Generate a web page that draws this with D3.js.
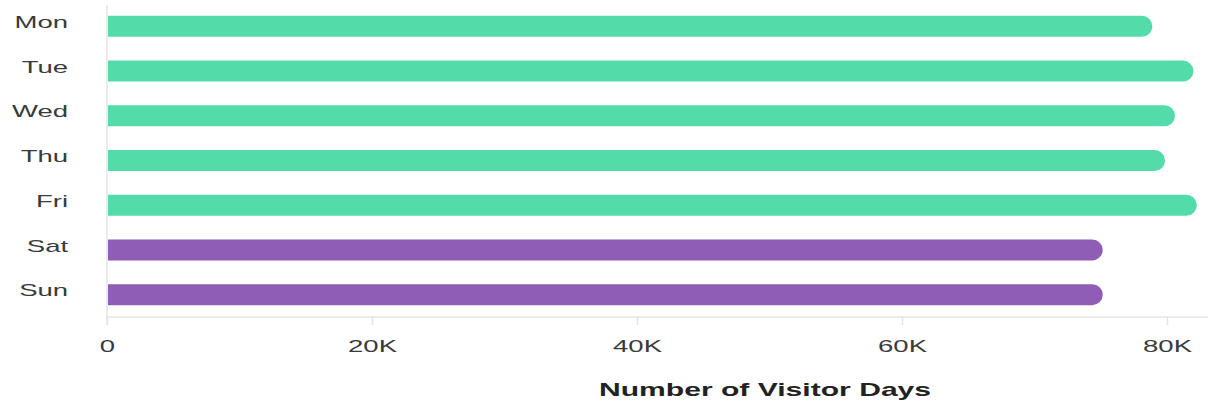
<!DOCTYPE html>
<html><head><meta charset="utf-8">
<script src="https://cdn.jsdelivr.net/npm/d3@7"></script>
<style>
html,body{margin:0;padding:0;background:#fff;}
svg{display:block;}
</style></head>
<body>
<svg id="chart" width="1208" height="404"></svg>
<script>
const days = ["Mon","Tue","Wed","Thu","Fri","Sat","Sun"];
const visitorDays = [78900, 82000, 80600, 79850, 82250, 75150, 75150];
const dayType = ["weekday","weekday","weekday","weekday","weekday","weekend","weekend"];
const xTicks = [0, 20000, 40000, 60000, 80000];
const xTickLabels = ["0","20K","40K","60K","80K"];
const axisTitle = "Number of Visitor Days";

const svg = d3.select("#chart");
const SX = 1.62;
const x = d3.scaleLinear().domain([0, 80000]).range([107, 1167]);
const y = d3.scaleBand().domain(days).range([4, 317]).paddingInner(0.53).paddingOuter(0.265);
const color = d3.scaleOrdinal().domain(["weekday","weekend"]).range(["#53dba9","#8f5db6"]);

// vertical axis line
svg.append("line").attr("x1", x(0)).attr("x2", x(0)).attr("y1", 5).attr("y2", 325)
  .attr("stroke", "#e4e4e4").attr("stroke-width", 1.5);

// bottom axis
const gx = svg.append("g").attr("transform", "translate(0,317)")
  .call(d3.axisBottom(x).tickValues(xTicks).tickFormat((d,i)=>xTickLabels[i]).tickSize(8).tickPadding(14).tickSizeOuter(0));
gx.select(".domain").remove();
gx.append("line").attr("x1", x(0)).attr("x2", 1208).attr("stroke", "#e4e4e4").attr("stroke-width", 1.5);
gx.selectAll(".tick line").attr("stroke", "#e4e4e4").attr("stroke-width", 1.5);
gx.selectAll(".tick text").attr("fill", "#3a3a3a").attr("font-family", "Liberation Sans, Arial, sans-serif")
  .attr("font-size", 17).attr("transform", `scale(${SX},1)`).attr("dy", "0.75em");

// left labels
const gy = svg.append("g").attr("transform", `translate(${x(0)},0)`)
  .call(d3.axisLeft(y).tickSize(0).tickPadding(24));
gy.select(".domain").remove();
gy.selectAll(".tick text").attr("fill", "#3a3a3a").attr("font-family", "Liberation Sans, Arial, sans-serif")
  .attr("font-size", 17).attr("transform", `scale(${SX},1)`).attr("dy", "0.1em");

// bars: square left, rounded right
function barPath(x0, x1, y0, h){
  const r = h/2;
  return `M${x0},${y0}H${x1-r}A${r},${r} 0 0 1 ${x1},${y0+r}A${r},${r} 0 0 1 ${x1-r},${y0+h}H${x0}Z`;
}
svg.append("g").selectAll("path").data(days).join("path")
  .attr("d", (d,i)=>barPath(x(0)+1, x(visitorDays[i]), y(d), y.bandwidth()))
  .attr("fill", (d,i)=>color(dayType[i]));

// axis title
svg.append("text").attr("transform", `translate(765,396) scale(1.72,1)`)
  .attr("text-anchor", "middle").attr("font-family", "Liberation Sans, Arial, sans-serif")
  .attr("font-weight", "bold").attr("font-size", 17.5).attr("fill", "#222").text(axisTitle);
</script>
</body></html>
